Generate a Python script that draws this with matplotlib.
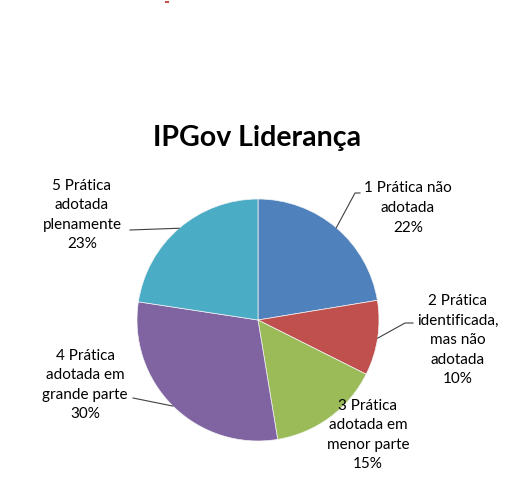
"""IPGov Liderança pie chart."""

import numpy as np
import matplotlib
matplotlib.use("Agg")
import matplotlib.pyplot as plt

W, H = 532, 486

labels = [
    "1 Prática não\nadotada",
    "2 Prática\nidentificada,\nmas não\nadotada",
    "3 Prática\nadotada em\nmenor parte",
    "4 Prática\nadotada em\ngrande parte",
    "5 Prática\nadotada\nplenamente",
]
shares = [22.4, 10.0, 15.0, 30.0, 22.6]
pct_text = ["22%", "10%", "15%", "30%", "23%"]
colors = ["#4F81BD", "#C0504D", "#9BBB59", "#8064A2", "#4BACC6"]

# label anchor (pixels from top-left) and leader elbow / end points
label_pos = [(408, 208), (458, 340), (368, 435), (85, 385), (82, 215)]
leader_pts = [[(355, 193), (360, 193)], [(405, 323), (413, 323)], None,
              [(133, 398)], [(130, 230)]]

CX, CY, R = 258, 320, 121

plt.rcParams["font.family"] = ["Lato", "DejaVu Sans"]

fig = plt.figure(figsize=(W / 100, H / 100), dpi=100)
ax = fig.add_axes([0, 0, 1, 1])
ax.set_xlim(0, W)
ax.set_ylim(0, H)
ax.axis("off")

ax.pie(shares, colors=colors, startangle=90, counterclock=False,
       center=(CX, H - CY), radius=R,
       wedgeprops=dict(linewidth=0.5, edgecolor="#f4f4f4"))
ax.set_xlim(0, W)
ax.set_ylim(0, H)
ax.set_aspect("equal")

ax.text(257, H - 138, "IPGov Liderança", ha="center", va="center",
        fontsize=20.5, fontweight="bold", color="black")

cum = np.cumsum([0] + shares[:-1])
for i, (lab, pct) in enumerate(zip(labels, pct_text)):
    x, y = label_pos[i]
    ax.text(x, H - y, lab + "\n" + pct, ha="center", va="center",
            fontsize=11, linespacing=1.5, color="black")
    if leader_pts[i] is None:
        continue
    mid = (cum[i] + shares[i] / 2) / 100 * 2 * np.pi
    sx = CX + R * np.sin(mid)
    sy = CY - R * np.cos(mid)
    pts = [(sx, sy)] + leader_pts[i]
    ax.plot([p[0] for p in pts], [H - p[1] for p in pts],
            color="#404040", linewidth=0.8)

# small red mark at top edge
ax.plot([166, 168], [H - 2, H - 2], color="#C0504D", linewidth=1.5)

fig.savefig("out.png", dpi=100)
